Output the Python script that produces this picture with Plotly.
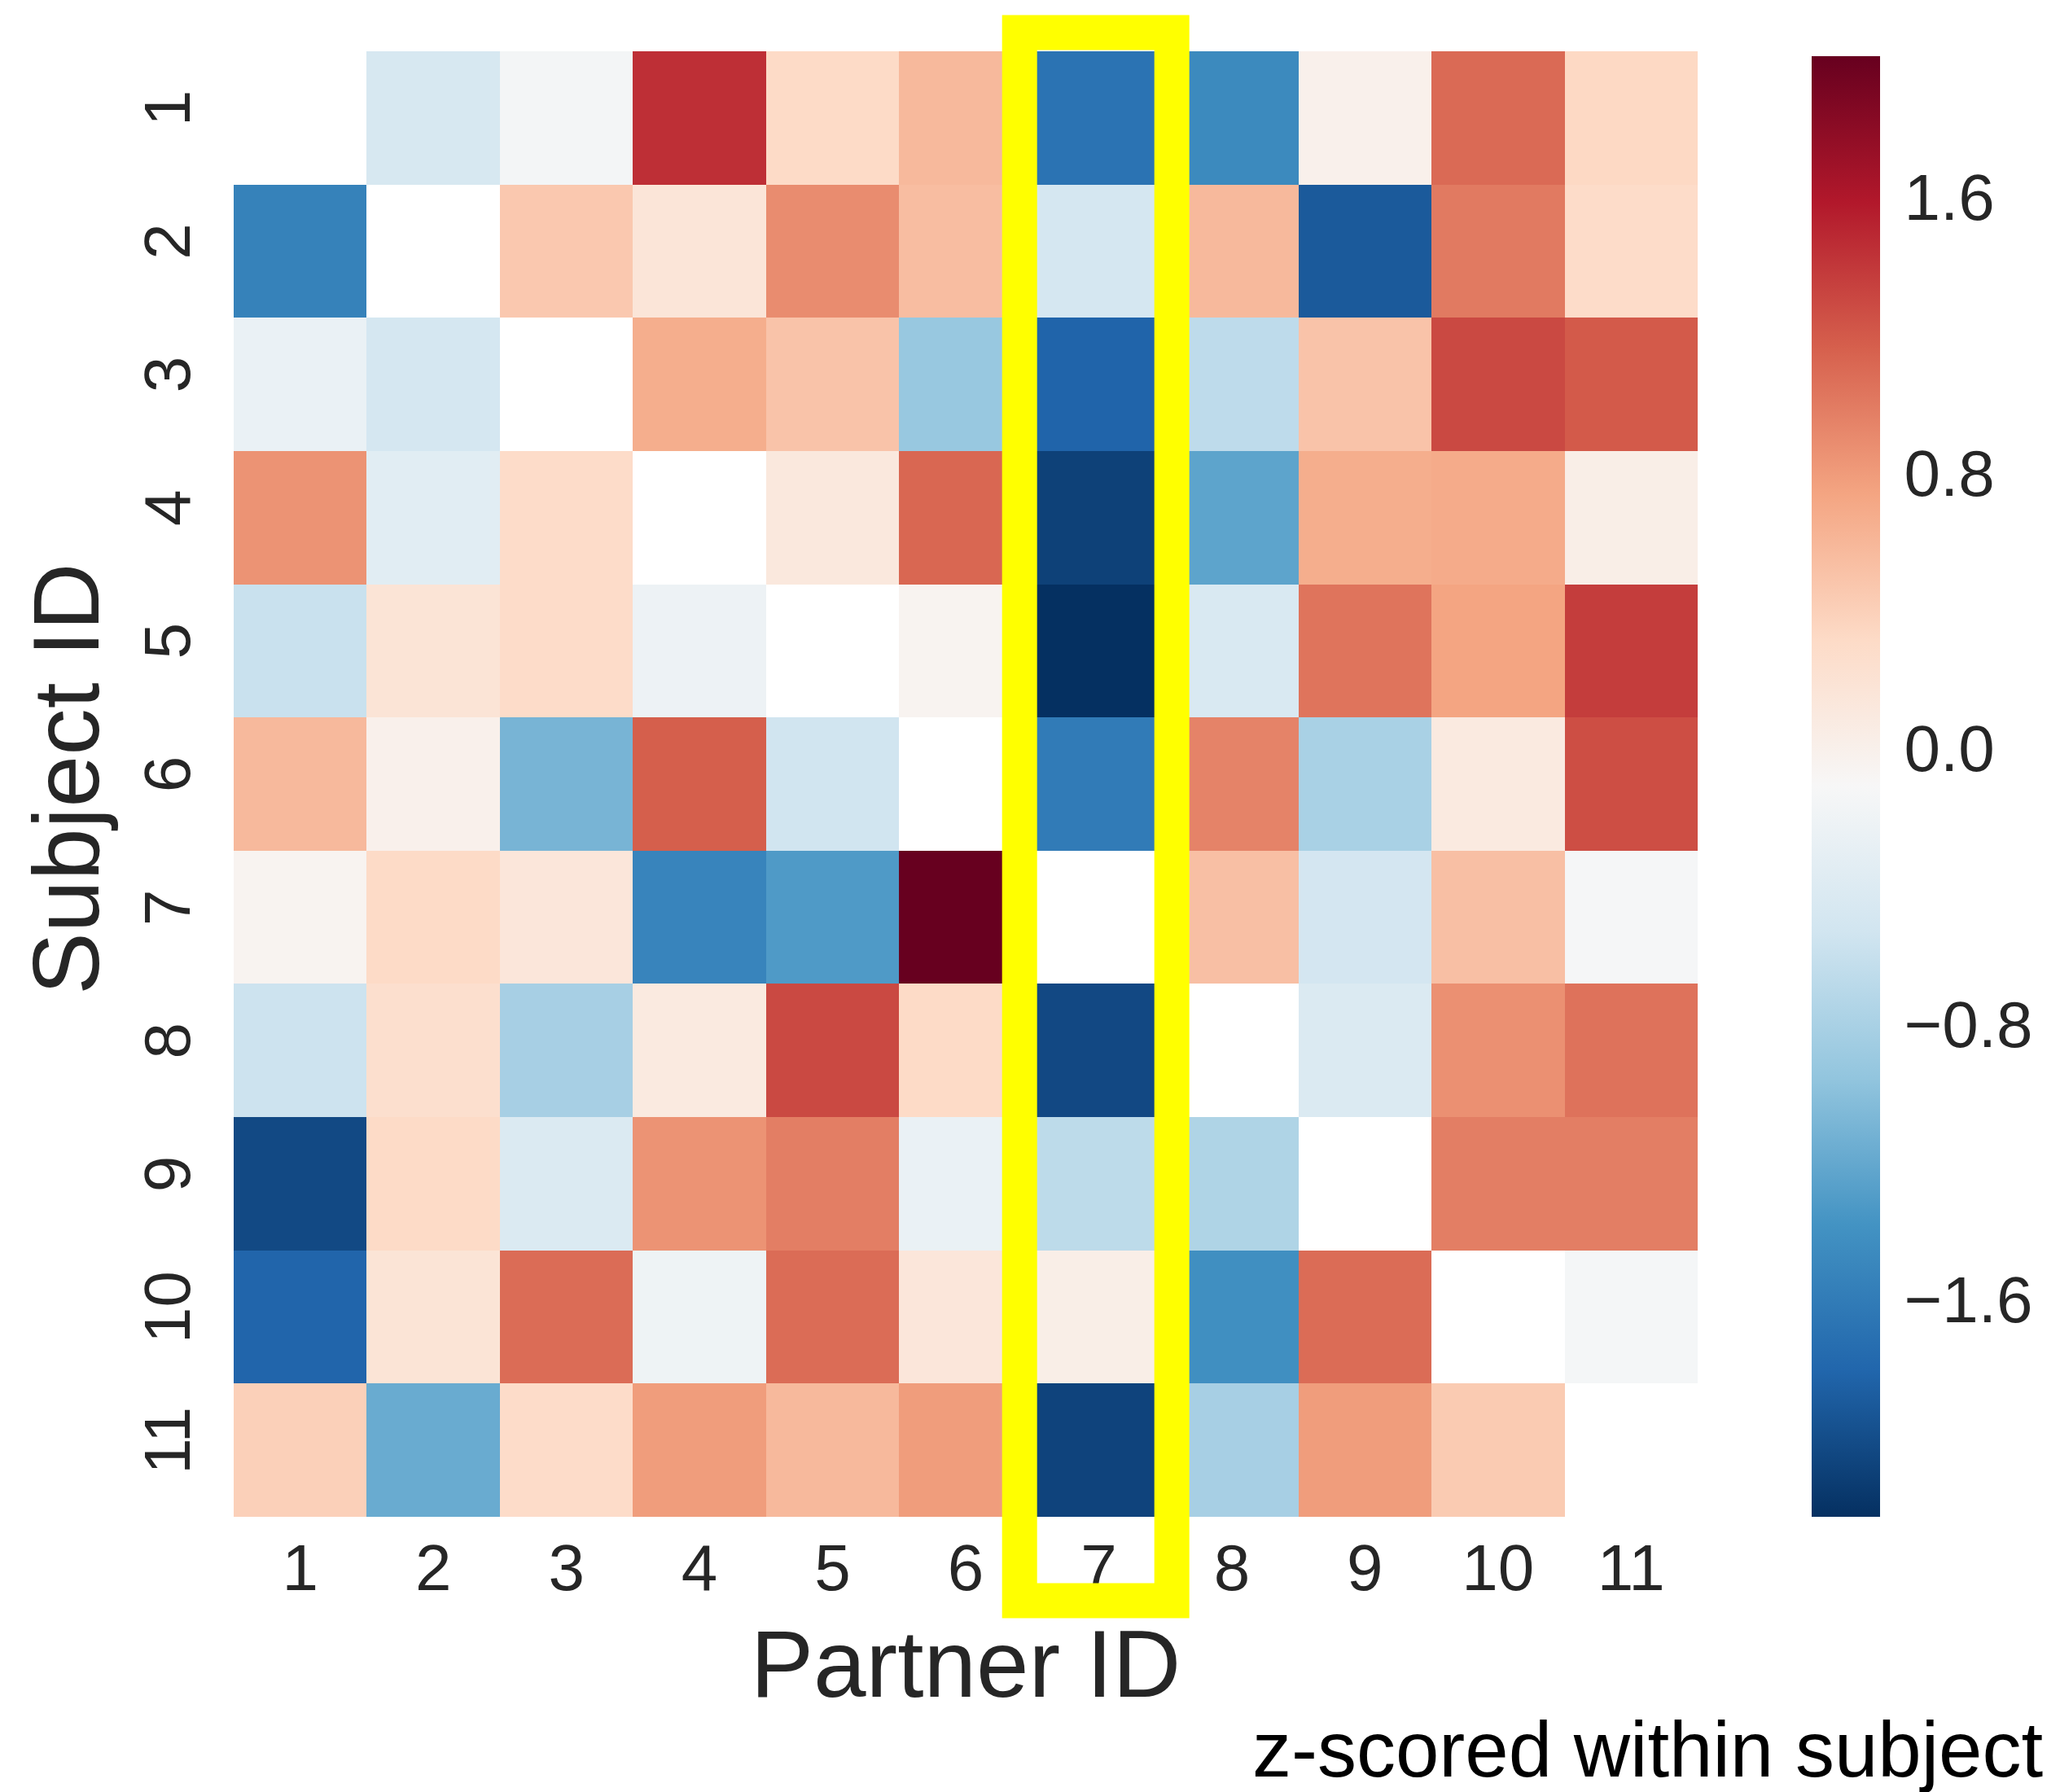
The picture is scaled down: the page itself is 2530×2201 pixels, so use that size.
import numpy as np
import plotly.graph_objects as go

# ---------------- data ----------------
subject_ids = [1, 2, 3, 4, 5, 6, 7, 8, 9, 10, 11]
partner_ids = [1, 2, 3, 4, 5, 6, 7, 8, 9, 10, 11]
nan = None
row_1 = [nan, -0.47, -0.15, 1.45, 0.31, 0.58, -1.68, -1.47, 0.00, 1.10, 0.33]
row_2 = [-1.54, nan, 0.46, 0.16, 0.89, 0.55, -0.49, 0.58, -1.90, 1.00, 0.30]
row_3 = [-0.26, -0.49, nan, 0.67, 0.50, -0.92, -1.82, -0.66, 0.50, 1.30, 1.20]
row_4 = [0.85, -0.35, 0.30, nan, 0.12, 1.12, -2.10, -1.24, 0.67, 0.69, 0.03]
row_5 = [-0.59, 0.18, 0.30, -0.22, nan, -0.05, -2.23, -0.44, 1.04, 0.74, 1.37]
row_6 = [0.58, 0.00, -1.10, 1.17, -0.53, nan, -1.61, 0.95, -0.80, 0.09, 1.27]
row_7 = [-0.05, 0.31, 0.15, -1.52, -1.32, 2.01, nan, 0.53, -0.50, 0.53, -0.13]
row_8 = [-0.56, 0.25, -0.82, 0.09, 1.30, 0.31, -2.04, nan, -0.42, 0.87, 1.05]
row_9 = [-2.03, 0.31, -0.42, 0.85, 0.98, -0.26, -0.67, -0.76, nan, 0.98, 0.98]
row_10 = [-1.81, 0.18, 1.09, -0.21, 1.09, 0.15, 0.03, -1.42, 1.09, nan, -0.14]
row_11 = [0.40, -1.18, 0.30, 0.79, 0.58, 0.79, -2.08, -0.82, 0.79, 0.44, nan]
rows = [row_1, row_2, row_3, row_4, row_5, row_6, row_7, row_8, row_9, row_10, row_11]

cbar_tickvals = [-1.6, -0.8, 0.0, 0.8, 1.6]
cbar_ticktext = ["\u22121.6", "\u22120.8", "0.0", "0.8", "1.6"]
highlight_partner = 7

# ---------------- styling ----------------
z = np.array([[np.nan if v is None else v for v in r] for r in rows], dtype=float)
zmin, zmax = float(np.nanmin(z)), float(np.nanmax(z))

rdbu_r = ['rgb(5,48,97)', 'rgb(33,102,172)', 'rgb(67,147,195)', 'rgb(146,197,222)',
          'rgb(209,229,240)', 'rgb(247,247,247)', 'rgb(253,219,199)', 'rgb(244,165,130)',
          'rgb(214,96,77)', 'rgb(178,24,43)', 'rgb(103,0,31)']
colorscale = [[i / 10, c] for i, c in enumerate(rdbu_r)]

# page has an 8px body margin; compensate so the figure fills the window
OFF = 8
W, H = 2530 - OFF, 2201 - OFF
ML, MT = 287 - OFF, 63 - OFF
MR, MB = W - (2085 - OFF), H - (1863 - OFF)
PW, PH = W - ML - MR, H - MT - MB
FONT = "Liberation Sans, Arial, sans-serif"
TXT = "#262626"


def px_to_paper_x(px):
    return (px - OFF - ML) / PW


def px_to_paper_y(py):
    return (H - MB - (py - OFF)) / PH


fig = go.Figure(go.Heatmap(
    x=partner_ids, y=subject_ids, z=z,
    colorscale=colorscale, zmin=zmin, zmax=zmax,
    xgap=0, ygap=0, hoverongaps=False,
    colorbar=dict(
        x=px_to_paper_x(2225), xanchor="left", xpad=0,
        y=0, yanchor="bottom", ypad=0,
        len=1794, lenmode="pixels", thickness=84,
        outlinewidth=0,
        tickvals=cbar_tickvals, ticktext=cbar_ticktext,
        ticks="outside", ticklen=14, tickcolor="rgba(0,0,0,0)",
        tickfont=dict(family=FONT, size=80, color=TXT),
    ),
))

n = len(partner_ids)
idx = partner_ids.index(highlight_partner)
# yellow highlight box around the partner column (paper coordinates)
x0 = (idx - 0.095) / n
x1 = (idx + 1 + 0.049) / n
y0 = -0.63 / n
y1 = 1 + 0.14 / n
fig.add_shape(type="rect", xref="paper", yref="paper", x0=x0, x1=x1, y0=y0, y1=y1,
              line=dict(color="#FFFF00", width=43), fillcolor="rgba(0,0,0,0)", layer="above")

# y-axis title
fig.add_annotation(text="Subject ID", xref="paper", yref="paper",
                   x=px_to_paper_x(81), y=px_to_paper_y(957),
                   xanchor="center", yanchor="middle", textangle=-90, showarrow=False,
                   font=dict(family=FONT, size=115, color=TXT))

# colorbar caption
fig.add_annotation(text="z-scored within subject", xref="paper", yref="paper",
                   x=px_to_paper_x(2511), y=px_to_paper_y(2148),
                   xanchor="right", yanchor="middle", showarrow=False,
                   font=dict(family=FONT, size=96, color="black"))

fig.update_layout(
    width=W, height=H,
    margin=dict(l=ML, r=MR, t=MT, b=MB, pad=0, autoexpand=False),
    paper_bgcolor="white", plot_bgcolor="white",
    font=dict(family=FONT, color=TXT),
    xaxis=dict(
        tickvals=partner_ids, ticktext=[str(p) for p in partner_ids],
        range=[0.5, n + 0.5], showgrid=False, zeroline=False, showline=False,
        ticks="", ticklabelstandoff=9, automargin=False,
        tickfont=dict(family=FONT, size=80, color=TXT),
        title=dict(text="Partner ID", font=dict(family=FONT, size=116, color=TXT), standoff=33),
    ),
    yaxis=dict(
        tickvals=subject_ids, ticktext=[str(s) for s in subject_ids],
        range=[n + 0.5, 0.5], showgrid=False, zeroline=False, showline=False,
        ticks="", tickangle=-90, ticklabelstandoff=37, automargin=False,
        tickfont=dict(family=FONT, size=80, color=TXT),
    ),
)

fig.write_html("out.html")
